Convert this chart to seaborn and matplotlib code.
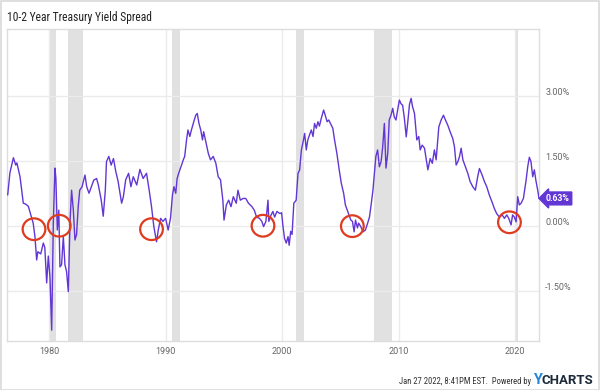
import numpy as np
import pandas as pd
import seaborn as sns
import matplotlib
matplotlib.use("Agg")
import matplotlib.pyplot as plt
from matplotlib import font_manager
from matplotlib.patches import Ellipse, Rectangle
from matplotlib.transforms import ScaledTranslation

# --- dados (ano decimal, spread 10a-2a em %) ---
anos = [
    1976.41, 1976.6, 1976.9, 1977.1, 1977.2, 1977.47, 1977.75, 1977.95, 1978.18, 1978.4,
    1978.6, 1978.75, 1978.9, 1979.0, 1979.25, 1979.47, 1979.6, 1979.76, 1979.9, 1980.04,
    1980.19, 1980.33, 1980.47, 1980.55, 1980.67, 1980.8, 1980.9, 1981.04, 1981.19, 1981.33,
    1981.47, 1981.62, 1981.76, 1981.9, 1982.05, 1982.19, 1982.33, 1982.47, 1982.6, 1982.8,
    1983.05, 1983.2, 1983.4, 1983.6, 1983.8, 1984.05, 1984.2, 1984.45, 1984.62, 1984.8,
    1984.9, 1985.1, 1985.3, 1985.5, 1985.7, 1985.9, 1986.2, 1986.35, 1986.55, 1986.8,
    1987.0, 1987.2, 1987.5, 1987.77, 1988.05, 1988.34, 1988.57, 1988.77, 1988.97, 1989.2,
    1989.35, 1989.55, 1989.75, 1989.98, 1990.2, 1990.4, 1990.57, 1990.7, 1990.85, 1990.97,
    1991.1, 1991.3, 1991.5, 1991.62, 1991.78, 1991.9, 1992.06, 1992.2, 1992.4, 1992.57,
    1992.7, 1992.85, 1993.0, 1993.15, 1993.25, 1993.5, 1993.65, 1993.84, 1994.07, 1994.3,
    1994.5, 1994.7, 1994.9, 1995.0, 1995.2, 1995.4, 1995.6, 1995.8, 1996.05, 1996.2,
    1996.4, 1996.65, 1996.87, 1997.1, 1997.4, 1997.6, 1997.8, 1998.05, 1998.25, 1998.4,
    1998.6, 1998.78, 1998.85, 1999.05, 1999.2, 1999.35, 1999.55, 1999.8, 1999.95, 2000.07,
    2000.2, 2000.35, 2000.5, 2000.6, 2000.73, 2000.85, 2001.0, 2001.2, 2001.36, 2001.5,
    2001.65, 2001.8, 2001.93, 2002.07, 2002.2, 2002.36, 2002.5, 2002.65, 2002.78, 2002.93,
    2003.07, 2003.2, 2003.36, 2003.56, 2003.7, 2003.86, 2004.0, 2004.15, 2004.35, 2004.5,
    2004.7, 2004.9, 2005.08, 2005.28, 2005.43, 2005.67, 2005.9, 2006.04, 2006.18, 2006.3,
    2006.47, 2006.57, 2006.75, 2006.95, 2007.15, 2007.3, 2007.5, 2007.66, 2007.8, 2007.9,
    2008.05, 2008.2, 2008.35, 2008.5, 2008.64, 2008.78, 2008.92, 2009.07, 2009.2, 2009.35,
    2009.5, 2009.63, 2009.78, 2009.92, 2010.07, 2010.2, 2010.35, 2010.5, 2010.66, 2010.78,
    2010.94, 2011.08, 2011.2, 2011.37, 2011.57, 2011.74, 2011.86, 2012.03, 2012.23, 2012.52,
    2012.72, 2012.9, 2013.08, 2013.23, 2013.46, 2013.66, 2013.86, 2014.03, 2014.23, 2014.43,
    2014.66, 2014.8, 2014.95, 2015.1, 2015.24, 2015.38, 2015.53, 2015.75, 2015.95, 2016.15,
    2016.38, 2016.6, 2016.8, 2016.95, 2017.18, 2017.38, 2017.58, 2017.8, 2018.03, 2018.23,
    2018.43, 2018.66, 2018.9, 2019.1, 2019.3, 2019.47, 2019.67, 2019.8, 2019.95, 2020.1,
    2020.24, 2020.38, 2020.53, 2020.73, 2020.96, 2021.1, 2021.24, 2021.38, 2021.53, 2021.67,
    2021.8, 2021.96, 2022.07,
]
spread = [
    0.71, 1.22, 1.57, 1.40, 1.45, 1.13, 0.52, 0.50, 0.45, 0.25,
    0.06, -0.25, -0.79, -0.60, -0.65, -0.40, -0.50, -1.32, -0.70, -1.18,
    -2.41, 0.06, 1.33, 1.10, -0.10, 0.36, -0.95, -0.90, -0.25, -0.90,
    -1.06, -1.52, 0.06, 0.82, 0.36, -0.33, -0.20, 0.44, 0.82, 0.90,
    1.17, 0.90, 0.75, 0.90, 1.05, 1.09, 0.94, 0.59, 0.22, 0.82,
    1.48, 1.60, 1.40, 1.55, 1.25, 1.02, 0.52, 0.67, 1.06, 1.21,
    0.90, 1.13, 0.94, 1.30, 1.09, 1.21, 0.82, 0.44, -0.02, -0.37,
    -0.10, 0.17, 0.10, 0.17, -0.10, 0.17, 0.71, 0.90, 0.75, 1.09,
    1.21, 1.36, 1.52, 1.60, 1.98, 2.21, 2.06, 2.21, 2.40, 2.55,
    2.59, 2.36, 2.21, 1.98, 2.17, 1.86, 1.67, 1.52, 1.60, 1.44,
    1.13, 1.06, 0.59, 0.13, 0.48, 0.59, 0.44, 0.67, 0.52, 0.82,
    0.59, 0.63, 0.63, 0.52, 0.44, 0.36, 0.20, 0.17, 0.10, -0.02,
    0.10, 0.59, 0.10, 0.25, 0.33, 0.20, 0.33, 0.28, 0.30, -0.02,
    -0.29, -0.40, -0.25, -0.45, -0.13, -0.20, 0.52, 0.59, 1.21, 1.29,
    1.75, 1.94, 2.13, 1.75, 1.98, 2.10, 2.21, 2.06, 2.36, 2.25,
    2.40, 2.30, 2.48, 2.67, 2.55, 2.40, 2.44, 2.36, 2.25, 1.98,
    1.67, 1.29, 0.98, 0.75, 0.48, 0.30, 0.13, 0.10, -0.14, 0.13,
    -0.05, 0.06, -0.02, -0.14, -0.10, 0.02, 0.20, 0.52, 0.82, 1.13,
    1.60, 1.75, 1.36, 1.48, 1.83, 2.36, 1.33, 1.67, 2.44, 2.55,
    2.71, 2.51, 2.44, 2.67, 2.90, 2.82, 2.78, 2.48, 2.05, 2.36,
    2.80, 2.94, 2.75, 2.59, 1.98, 2.06, 1.75, 1.86, 1.79, 1.29,
    1.55, 1.44, 1.75, 1.52, 2.28, 2.44, 2.55, 2.44, 2.32, 2.17,
    2.01, 1.83, 1.40, 1.48, 1.60, 1.79, 1.52, 1.36, 1.21, 1.02,
    0.90, 0.82, 1.13, 1.32, 1.17, 1.02, 0.90, 0.71, 0.55, 0.40,
    0.28, 0.20, 0.25, 0.17, 0.25, 0.17, 0.02, 0.25, 0.20, 0.09,
    0.67, 0.48, 0.52, 0.63, 1.05, 1.36, 1.58, 1.48, 1.13, 1.29,
    1.05, 0.82, 0.63,
]

# recessoes (inicio, fim) em ano decimal
recessoes = [(1980.0, 1980.55), (1981.55, 1982.9), (1990.55, 1991.2),
             (2001.2, 2001.87), (2007.92, 2009.47), (2020.08, 2020.3)]

# circulos vermelhos (ano, valor)
circulos = [(1978.67, -0.08), (1980.84, 0.0), (1988.77, -0.08),
            (1998.35, 0.0), (2006.03, -0.01), (2019.53, 0.08)]

anos_ticks = [1980, 1990, 2000, 2010, 2020]
valores_ticks = [-1.5, 0.0, 1.5, 3.0]
ultimo_valor = 0.63

ROXO = "#6236d4"

df = pd.DataFrame({"ano": anos, "spread": spread})

sns.set_theme(style="white")
nomes = {f.name for f in font_manager.fontManager.ttflist}
fonte_estreita = next((n for n in ["Roboto Condensed", "Liberation Sans Narrow"] if n in nomes), "Roboto")
plt.rcParams["font.family"] = ["Roboto", "DejaVu Sans"]

fig = plt.figure(figsize=(6, 3.9), dpi=100)
fig.patches.append(Rectangle((0.001, 0.001), 0.997, 0.997, transform=fig.transFigure,
                             fill=False, edgecolor="#d9d9d9", linewidth=1.2))
ax = fig.add_axes([7 / 600, 1 - 341 / 390, 532 / 600, 312 / 390])

for ini, fim in recessoes:
    ax.axvspan(ini, fim, color="#e1e1e1", linewidth=0, zorder=0)

sns.lineplot(data=df, x="ano", y="spread", ax=ax, color=ROXO, linewidth=1.0,
             estimator=None, sort=False, zorder=3)

for cx, cy in circulos:
    ax.add_patch(Ellipse((cx, cy), width=1.95, height=0.5, fill=False,
                         edgecolor="#de3b1f", linewidth=1.6, zorder=4))

ax.set_xlim(1976.35, 2022.07)
ax.set_ylim(-2.66, 4.54)
ax.set_xticks(anos_ticks)
ax.set_xticklabels([str(a) for a in anos_ticks])
ax.set_yticks(valores_ticks)
ax.set_yticklabels([f"{v:.2f}%" for v in valores_ticks])
ax.yaxis.tick_right()
ax.tick_params(axis="both", length=0, labelsize=6.5, labelcolor="#666666")
ax.tick_params(axis="y", pad=4.5)
ax.tick_params(axis="x", pad=4.5)
for lab in ax.get_yticklabels():
    lab.set_transform(lab.get_transform() + ScaledTranslation(0, 3 / 72, fig.dpi_scale_trans))
ax.grid(True, color="#ebebeb", linewidth=1.0, zorder=1)
ax.set_axisbelow(True)
ax.set_xlabel("")
ax.set_ylabel("")
for lado in ax.spines.values():
    lado.set_color("#dddddd")
    lado.set_linewidth(1.0)

# etiqueta do ultimo valor
ax.annotate(f"{ultimo_valor:.2f}%", xy=(1.0, ultimo_valor), xycoords=("axes fraction", "data"),
            xytext=(5, 0), textcoords="offset points", ha="left", va="center",
            fontsize=6.3, fontweight="bold", color="white", zorder=6, annotation_clip=False,
            bbox=dict(boxstyle="larrow,pad=0.22", fc=ROXO, ec=ROXO))

fig.text(7 / 600, 1 - 18 / 390, "10-2 Year Treasury Yield Spread", fontsize=8.4,
         color="#222222", va="center", ha="left", family=[fonte_estreita, "DejaVu Sans"])

fig.text(531 / 600, 1 - 381 / 390, "Jan 27 2022, 8:41PM EST.  Powered by", fontsize=6.2,
         color="#333333", va="center", ha="right", family=[fonte_estreita, "DejaVu Sans"])
fig.text(533 / 600, 1 - 380 / 390, "Y", fontsize=10.5, color="#1f86db", va="center",
         ha="left", fontweight="bold")
fig.text(542 / 600, 1 - 380 / 390, "CHARTS", fontsize=9.5, color="#1c2a3a", va="center",
         ha="left", fontweight="bold")

fig.savefig("out.png", dpi=100)
